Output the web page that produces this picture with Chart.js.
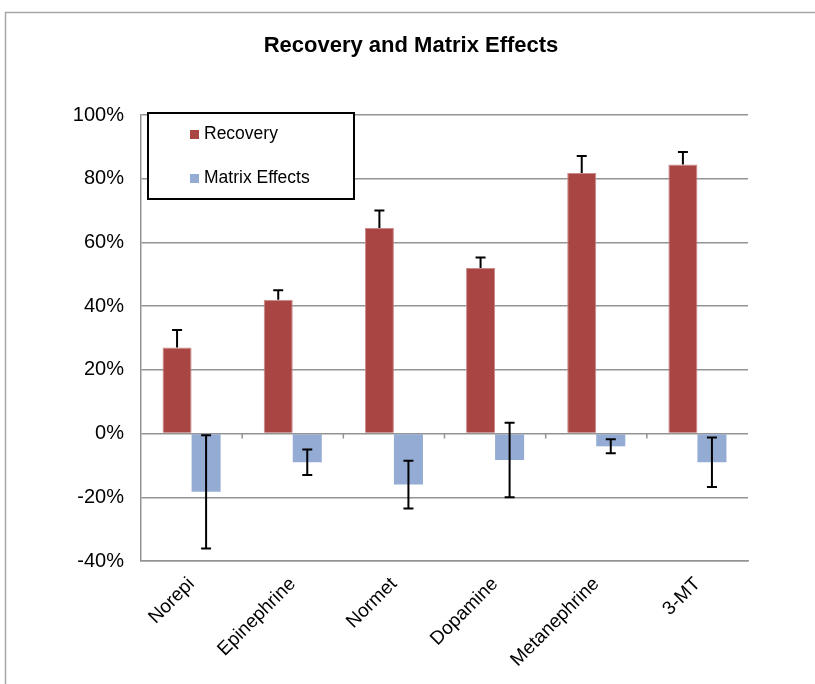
<!DOCTYPE html>
<html>
<head>
<meta charset="utf-8">
<script src="https://cdn.jsdelivr.net/npm/chart.js@4.4.1/dist/chart.umd.min.js"></script>
<style>
  html, body { margin: 0; padding: 0; background: #fff; }
  #wrap { width: 815px; height: 684px; position: relative; }
</style>
</head>
<body>
<div id="wrap"><canvas id="c" width="815" height="684"></canvas></div>
<script>
const chartTitle = "Recovery and Matrix Effects";
const categories = ["Norepi", "Epinephrine", "Normet", "Dopamine", "Metanephrine", "3-MT"];
const recovery = [27.0, 42.0, 64.5, 52.0, 81.8, 84.5];
const recoveryErr = [5.5, 3.0, 5.5, 3.3, 5.3, 3.9];
const matrixEffects = [-18.3, -9.0, -16.0, -8.3, -4.0, -9.0];
const matrixErr = [17.8, 4.0, 7.5, 11.7, 2.2, 7.8];
const yTicks = { min: -40, max: 100, step: 20 };

const RED = "#A94542";
const BLUE = "#94ABD3";
const GRID = "#939393";
const FONT = "'Liberation Sans', Arial, sans-serif";

const errorBars = {
  id: "errorBars",
  afterDatasetsDraw(chart) {
    const ctx = chart.ctx;
    const ys = chart.scales.y;
    const sets = [
      { idx: 0, vals: recovery, errs: recoveryErr, both: false },
      { idx: 1, vals: matrixEffects, errs: matrixErr, both: true }
    ];
    ctx.save();
    ctx.strokeStyle = "#000";
    ctx.lineWidth = 2;
    sets.forEach(s => {
      const meta = chart.getDatasetMeta(s.idx);
      meta.data.forEach((el, j) => {
        const x = el.x;
        const v = s.vals[j], e = s.errs[j];
        const yTop = ys.getPixelForValue(v + e);
        const yBot = s.both ? ys.getPixelForValue(v - e) : ys.getPixelForValue(v);
        ctx.beginPath();
        ctx.moveTo(x, yTop); ctx.lineTo(x, yBot);
        ctx.moveTo(x - 5, yTop); ctx.lineTo(x + 5, yTop);
        if (s.both) { ctx.moveTo(x - 5, yBot); ctx.lineTo(x + 5, yBot); }
        ctx.stroke();
      });
    });
    ctx.restore();
  }
};

const decor = {
  id: "decor",
  beforeDraw(chart) {
    const ctx = chart.ctx;
    ctx.save();
    ctx.fillStyle = "#fff";
    ctx.fillRect(0, 0, chart.width, chart.height);
    ctx.strokeStyle = "#a6a6a6";
    ctx.lineWidth = 1.5;
    ctx.strokeRect(5.5, 12.5, 1000, 1000);
    ctx.fillStyle = "#000";
    ctx.font = "bold 22px " + FONT;
    ctx.textAlign = "center";
    ctx.textBaseline = "middle";
    ctx.fillText(chartTitle, 411, 46);
    ctx.restore();
  },
  afterDatasetsDraw(chart) {
    const ctx = chart.ctx;
    const ca = chart.chartArea;
    const ys = chart.scales.y;
    const y0 = ys.getPixelForValue(0);
    const n = categories.length;
    const w = (ca.right - ca.left) / n;
    ctx.save();
    ctx.strokeStyle = GRID;
    ctx.lineWidth = 1.5;
    ctx.beginPath();
    for (let k = 1; k < n; k++) {
      const x = ca.left + k * w;
      ctx.moveTo(x, y0); ctx.lineTo(x, y0 + 5);
    }
    ctx.stroke();
    ctx.restore();
  },
  afterDraw(chart) {
    const ctx = chart.ctx;
    const ca = chart.chartArea;
    const bx = ca.left + 7, by = ca.top - 2, bw = 206, bh = 86;
    ctx.save();
    ctx.fillStyle = "#fff";
    ctx.fillRect(bx, by, bw, bh);
    ctx.strokeStyle = "#000";
    ctx.lineWidth = 2;
    ctx.strokeRect(bx, by, bw, bh);
    ctx.font = "17.5px " + FONT;
    ctx.textBaseline = "middle";
    ctx.fillStyle = RED;
    ctx.fillRect(bx + 42, by + 17, 9, 9);
    ctx.fillStyle = BLUE;
    ctx.fillRect(bx + 42, by + 61, 9, 9);
    ctx.fillStyle = "#000";
    ctx.fillText("Recovery", bx + 56, by + 21);
    ctx.fillText("Matrix Effects", bx + 56, by + 65);
    ctx.restore();
  }
};

new Chart(document.getElementById("c"), {
  type: "bar",
  data: {
    labels: categories,
    datasets: [
      { label: "Recovery", data: recovery, backgroundColor: RED, borderColor: "#c98a88", borderWidth: 1 },
      { label: "Matrix Effects", data: matrixEffects, backgroundColor: BLUE, borderWidth: 0 }
    ]
  },
  options: {
    responsive: false,
    animation: false,
    devicePixelRatio: 1,
    layout: { padding: { left: 0, right: 67, top: 115, bottom: 0 } },
    datasets: { bar: { barPercentage: 1.0, categoryPercentage: 0.574 } },
    plugins: {
      legend: { display: false },
      tooltip: { enabled: false },
      title: { display: false }
    },
    scales: {
      x: {
        grid: { display: false, drawTicks: false },
        border: { display: true, color: GRID, width: 1.5 },
        ticks: {
          color: "#000",
          font: { family: FONT, size: 19 },
          minRotation: 45, maxRotation: 45,
          padding: 12
        },
        afterFit(s) { s.height = 123; }
      },
      y: {
        min: yTicks.min, max: yTicks.max,
        grid: { color: GRID, lineWidth: 1.5, drawTicks: false },
        border: { display: true, color: GRID, width: 1.5 },
        ticks: {
          stepSize: yTicks.step,
          color: "#000",
          font: { family: FONT, size: 20 },
          padding: 17,
          callback: v => v + "%"
        },
        afterFit(s) { s.width = 141; }
      }
    }
  },
  plugins: [decor, errorBars]
});
</script>
</body>
</html>
